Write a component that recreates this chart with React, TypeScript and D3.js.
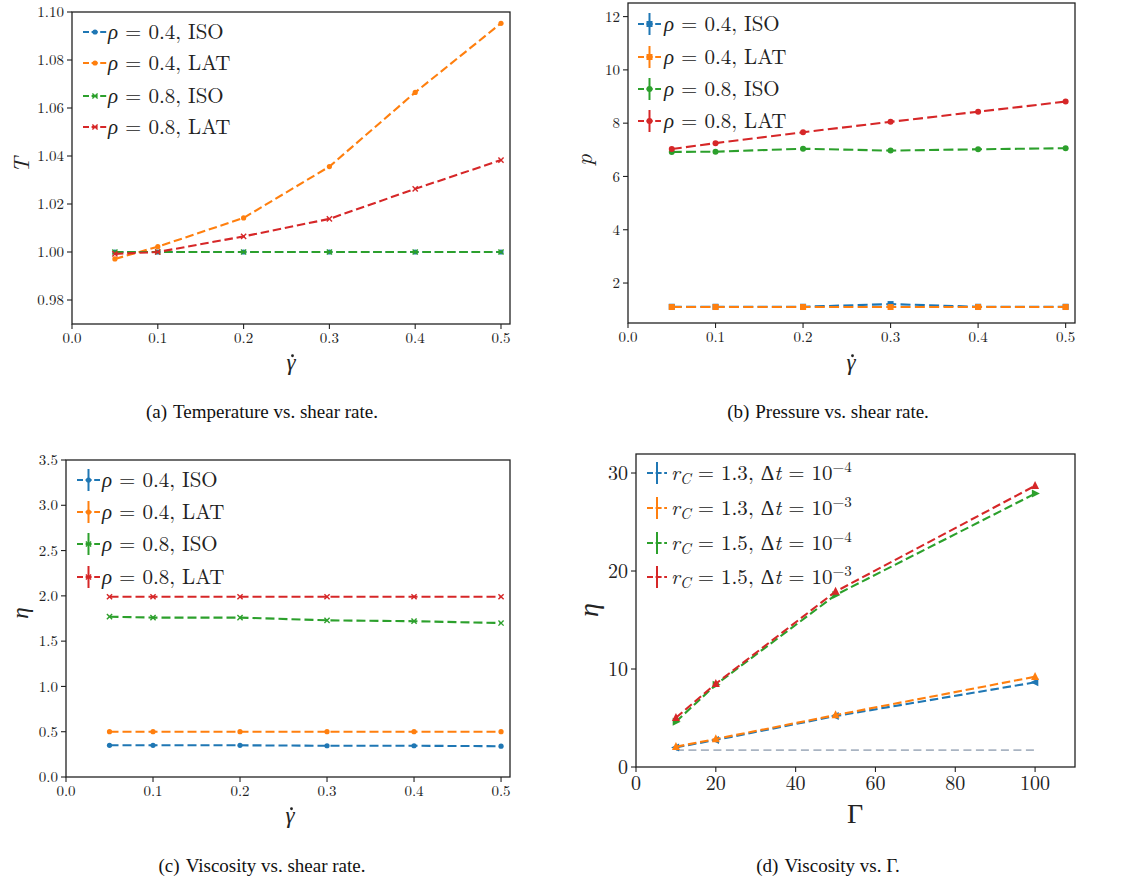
import React from 'react';
import * as d3 from 'd3';

// ---------- data ----------
const GAMMA_DOT = [0.05, 0.1, 0.2, 0.3, 0.4, 0.5];

const T_RHO04_ISO = [1.0, 1.0, 1.0, 1.0, 1.0, 1.0];
const T_RHO04_LAT = [0.9971, 1.0022, 1.0142, 1.0356, 1.0665, 1.0953];
const T_RHO08_ISO = [1.0, 1.0, 1.0, 1.0, 1.0, 1.0];
const T_RHO08_LAT = [0.9992, 1.0, 1.0065, 1.0138, 1.0263, 1.0383];

const P_RHO04_ISO = [1.11, 1.11, 1.11, 1.21, 1.11, 1.11];
const P_RHO04_LAT = [1.1, 1.1, 1.1, 1.1, 1.1, 1.1];
const P_RHO08_ISO = [6.92, 6.93, 7.04, 6.97, 7.02, 7.06];
const P_RHO08_LAT = [7.03, 7.25, 7.66, 8.05, 8.43, 8.81];

const ETA_RHO04_ISO = [0.35, 0.35, 0.35, 0.345, 0.345, 0.34];
const ETA_RHO04_LAT = [0.5, 0.5, 0.5, 0.5, 0.5, 0.5];
const ETA_RHO08_ISO = [1.77, 1.76, 1.76, 1.73, 1.72, 1.7];
const ETA_RHO08_LAT = [1.99, 1.99, 1.99, 1.99, 1.99, 1.99];

const GAMMA_BIG = [10, 20, 50, 100];
const ETA_RC13_DT4 = [2.0, 2.76, 5.2, 8.64];
const ETA_RC13_DT3 = [2.07, 2.86, 5.3, 9.21];
const ETA_RC15_DT4 = [4.62, 8.4, 17.55, 27.9];
const ETA_RC15_DT3 = [5.03, 8.5, 17.9, 28.7];
const GAMMA_REF = [10, 100];
const ETA_REF = [1.73, 1.73];

const SHEAR_TICKS = [0.0, 0.1, 0.2, 0.3, 0.4, 0.5];
const T_TICKS = [0.98, 1.0, 1.02, 1.04, 1.06, 1.08, 1.1];
const P_TICKS = [2, 4, 6, 8, 10, 12];
const ETA_TICKS = [0.0, 0.5, 1.0, 1.5, 2.0, 2.5, 3.0, 3.5];
const BIG_X_TICKS = [0, 20, 40, 60, 80, 100];
const BIG_Y_TICKS = [0, 10, 20, 30];

const RHO_LABELS = [
  ['0.4', 'ISO'],
  ['0.4', 'LAT'],
  ['0.8', 'ISO'],
  ['0.8', 'LAT'],
];
const RC_LABELS = [
  ['1.3', '−4'],
  ['1.3', '−3'],
  ['1.5', '−4'],
  ['1.5', '−3'],
];

const COLORS = ['#1f77b4', '#ff7f0e', '#2ca02c', '#d62728'];
const REF_COLOR = '#a9b4c2';

const MATH = '"Latin Modern Roman", "Liberation Serif", serif';
const GREEK = '"Liberation Serif", serif';
const TEXT = '"Liberation Serif", "Times New Roman", serif';

type Shape = 'o' | 's' | 'x' | '<' | '>' | '^';

function Marker({ shape, x, y, s, color }: { shape: Shape; x: number; y: number; s: number; color: string }) {
  if (shape === 'o') return <circle cx={x} cy={y} r={s} fill={color} />;
  if (shape === 's') return <rect x={x - s} y={y - s} width={2 * s} height={2 * s} fill={color} />;
  if (shape === 'x')
    return (
      <g stroke={color} strokeWidth={1.4}>
        <line x1={x - s} y1={y - s} x2={x + s} y2={y + s} />
        <line x1={x - s} y1={y + s} x2={x + s} y2={y - s} />
      </g>
    );
  let pts: number[][] = [];
  if (shape === '^') pts = [[x, y - s * 1.2], [x - s, y + s * 0.8], [x + s, y + s * 0.8]];
  if (shape === '<') pts = [[x - s * 1.2, y], [x + s * 0.8, y - s], [x + s * 0.8, y + s]];
  if (shape === '>') pts = [[x + s * 1.2, y], [x - s * 0.8, y - s], [x - s * 0.8, y + s]];
  return <polygon points={pts.map((p) => p.join(',')).join(' ')} fill={color} />;
}

type Series = { xs: number[]; ys: number[]; color: string; shape: Shape | null; dash?: string; width?: number };

type PanelProps = {
  box: { l: number; t: number; r: number; b: number };
  xDomain: [number, number];
  yDomain: [number, number];
  xTicks: number[];
  yTicks: number[];
  xFmt: (v: number) => string;
  yFmt: (v: number) => string;
  tickFont: number;
  series: Series[];
  markerSize: number;
  legend: {
    x1: number; x2: number; textX: number; rows: number[]; errbar: boolean; font: number;
    labels: React.ReactNode[]; shapes: (Shape | null)[];
  };
  xLabel: { kind: 'gammadot' | 'Gamma'; x: number; y: number; size: number };
  yLabel: { text: string; greek: boolean; x: number; y: number; size: number };
  caption: { tag: string; text: string; x: number; y: number };
};

function Panel(p: PanelProps) {
  const { box } = p;
  const x = d3.scaleLinear().domain(p.xDomain).range([box.l, box.r]);
  const y = d3.scaleLinear().domain(p.yDomain).range([box.b, box.t]);
  const line = d3.line<[number, number]>().x((d) => x(d[0])).y((d) => y(d[1]));
  const clipId = `clip-${box.l}-${box.t}`;
  const xl = p.xLabel;
  return (
    <g>
      <defs>
        <clipPath id={clipId}>
          <rect x={box.l} y={box.t} width={box.r - box.l} height={box.b - box.t} />
        </clipPath>
      </defs>
      <g clipPath={`url(#${clipId})`}>
        {p.series.map((s, i) => {
          const pts = s.xs.map((xv, j) => [xv, s.ys[j]] as [number, number]);
          return (
            <g key={i}>
              <path d={line(pts) || ''} fill="none" stroke={s.color} strokeWidth={s.width ?? 2.1} strokeDasharray={s.dash ?? '8.5 3.8'} />
              {s.shape && pts.map((d, j) => <Marker key={j} shape={s.shape as Shape} x={x(d[0])} y={y(d[1])} s={p.markerSize} color={s.color} />)}
            </g>
          );
        })}
      </g>
      <rect x={box.l} y={box.t} width={box.r - box.l} height={box.b - box.t} fill="none" stroke="#222" strokeWidth={1.3} />
      {p.xTicks.map((v) => (
        <g key={'x' + v}>
          <line x1={x(v)} x2={x(v)} y1={box.b} y2={box.b + 5} stroke="#222" strokeWidth={1.1} />
          <text x={x(v)} y={box.b + 9 + p.tickFont * 0.68} textAnchor="middle" fontFamily={MATH} fontSize={p.tickFont} fill="#222">
            {p.xFmt(v)}
          </text>
        </g>
      ))}
      {p.yTicks.map((v) => (
        <g key={'y' + v}>
          <line x1={box.l - 5} x2={box.l} y1={y(v)} y2={y(v)} stroke="#222" strokeWidth={1.1} />
          <text x={box.l - 8} y={y(v) + p.tickFont * 0.34} textAnchor="end" fontFamily={MATH} fontSize={p.tickFont} fill="#222">
            {p.yFmt(v)}
          </text>
        </g>
      ))}
      {p.legend.rows.map((ry, i) => {
        const lg = p.legend;
        const cx = (lg.x1 + lg.x2) / 2;
        const shape = lg.shapes[i];
        return (
          <g key={'lg' + i}>
            <line x1={lg.x1} x2={lg.x2} y1={ry} y2={ry} stroke={COLORS[i]} strokeWidth={2} strokeDasharray="6 2.6" />
            {lg.errbar && <line x1={cx} x2={cx} y1={ry - 11} y2={ry + 11} stroke={COLORS[i]} strokeWidth={2} />}
            {shape && <Marker shape={shape} x={cx} y={ry} s={p.markerSize} color={COLORS[i]} />}
            <text x={lg.textX} y={ry + lg.font * 0.33} fontFamily={MATH} fontSize={lg.font} fill="#222">
              {lg.labels[i]}
            </text>
          </g>
        );
      })}
      {xl.kind === 'gammadot' ? (
        <g>
          <text x={xl.x} y={xl.y} textAnchor="middle" fontFamily={GREEK} fontSize={xl.size} fontStyle="italic" fill="#222">
            γ
          </text>
          <circle cx={xl.x + 1.5} cy={xl.y - xl.size * 0.62} r={1.4} fill="#222" />
        </g>
      ) : (
        <text x={xl.x} y={xl.y} textAnchor="middle" fontFamily={GREEK} fontSize={xl.size} fill="#222">
          Γ
        </text>
      )}
      <text
        transform={`translate(${p.yLabel.x},${p.yLabel.y}) rotate(-90)`}
        textAnchor="middle"
        fontFamily={p.yLabel.greek ? GREEK : MATH}
        fontSize={p.yLabel.size}
        fontStyle="italic"
        fill="#222"
      >
        {p.yLabel.text}
      </text>
      <text x={p.caption.x} y={p.caption.y} textAnchor="middle" fontFamily={TEXT} fontSize={19} fill="#111">
        <tspan>{p.caption.tag}</tspan>
        <tspan dx={6}>{p.caption.text}</tspan>
      </text>
    </g>
  );
}

const rhoLabel = (l: string[]) => (
  <>
    <tspan fontStyle="italic" fontFamily={GREEK}>ρ</tspan>
    <tspan> = {l[0]}, {l[1]}</tspan>
  </>
);
const rcLabel = (l: string[], fs: number) => (
  <>
    <tspan fontStyle="italic">r</tspan>
    <tspan fontStyle="italic" fontSize={fs * 0.72} dy={fs * 0.2}>C</tspan>
    <tspan dy={-fs * 0.2}> = {l[0]}, </tspan>
    <tspan fontFamily={GREEK}>Δ</tspan>
    <tspan fontStyle="italic">t</tspan>
    <tspan> = 10</tspan>
    <tspan fontSize={fs * 0.72} dy={-fs * 0.4}>{l[1]}</tspan>
  </>
);

const fmt1 = d3.format('.1f');
const fmt2 = d3.format('.2f');
const fmt0 = d3.format('d');

export default function App() {
  const dash = '8.5 3.8';
  return (
    <svg width={1121} height={882} style={{ position: 'absolute', left: 0, top: 0, background: '#fff' }}>
      <rect x={0} y={0} width={1121} height={882} fill="#fff" />
      {/* (a) */}
      <Panel
        box={{ l: 72, t: 12, r: 510, b: 324 }}
        xDomain={[0, 0.5105]}
        yDomain={[0.97, 1.1]}
        xTicks={SHEAR_TICKS}
        yTicks={T_TICKS}
        xFmt={fmt1}
        yFmt={fmt2}
        tickFont={15}
        markerSize={2.6}
        series={[
          { xs: GAMMA_DOT, ys: T_RHO04_ISO, color: COLORS[0], shape: 'o', dash },
          { xs: GAMMA_DOT, ys: T_RHO04_LAT, color: COLORS[1], shape: 'o', dash },
          { xs: GAMMA_DOT, ys: T_RHO08_ISO, color: COLORS[2], shape: 'x', dash },
          { xs: GAMMA_DOT, ys: T_RHO08_LAT, color: COLORS[3], shape: 'x', dash },
        ]}
        legend={{ x1: 83, x2: 107, textX: 108, rows: [32, 63, 96, 127], errbar: false, font: 21, labels: RHO_LABELS.map(rhoLabel), shapes: ['o', 'o', 'x', 'x'] }}
        xLabel={{ kind: 'gammadot', x: 291, y: 370, size: 23 }}
        yLabel={{ text: 'T', greek: false, x: 29, y: 165, size: 22 }}
        caption={{ tag: '(a)', text: 'Temperature vs. shear rate.', x: 262, y: 418 }}
      />
      {/* (b) */}
      <Panel
        box={{ l: 628, t: 3, r: 1075, b: 323 }}
        xDomain={[0, 0.5107]}
        yDomain={[0.5, 12.51]}
        xTicks={SHEAR_TICKS}
        yTicks={P_TICKS}
        xFmt={fmt1}
        yFmt={fmt0}
        tickFont={15}
        markerSize={3}
        series={[
          { xs: GAMMA_DOT, ys: P_RHO04_ISO, color: COLORS[0], shape: 's', dash: '10 4.3' },
          { xs: GAMMA_DOT, ys: P_RHO04_LAT, color: COLORS[1], shape: 's', dash: '10 4.3' },
          { xs: GAMMA_DOT, ys: P_RHO08_ISO, color: COLORS[2], shape: 'o', dash: '10 4.3' },
          { xs: GAMMA_DOT, ys: P_RHO08_LAT, color: COLORS[3], shape: 'o', dash: '10 4.3' },
        ]}
        legend={{ x1: 638, x2: 661, textX: 664, rows: [24, 57, 89, 121], errbar: true, font: 21, labels: RHO_LABELS.map(rhoLabel), shapes: ['s', 's', 'o', 'o'] }}
        xLabel={{ kind: 'gammadot', x: 851, y: 370, size: 23 }}
        yLabel={{ text: 'p', greek: false, x: 592, y: 160, size: 23 }}
        caption={{ tag: '(b)', text: 'Pressure vs. shear rate.', x: 828, y: 418 }}
      />
      {/* (c) */}
      <Panel
        box={{ l: 66, t: 460, r: 510, b: 777 }}
        xDomain={[0, 0.5103]}
        yDomain={[0, 3.5]}
        xTicks={SHEAR_TICKS}
        yTicks={ETA_TICKS}
        xFmt={fmt1}
        yFmt={fmt1}
        tickFont={15}
        markerSize={2.6}
        series={[
          { xs: GAMMA_DOT, ys: ETA_RHO04_ISO, color: COLORS[0], shape: 'o', dash: '9 4' },
          { xs: GAMMA_DOT, ys: ETA_RHO04_LAT, color: COLORS[1], shape: 'o', dash: '9 4' },
          { xs: GAMMA_DOT, ys: ETA_RHO08_ISO, color: COLORS[2], shape: 'x', dash: '9 4' },
          { xs: GAMMA_DOT, ys: ETA_RHO08_LAT, color: COLORS[3], shape: 'x', dash: '9 4' },
        ]}
        legend={{ x1: 77, x2: 100, textX: 102, rows: [480, 512, 544, 577], errbar: true, font: 21, labels: RHO_LABELS.map(rhoLabel), shapes: ['o', 'o', 'x', 'x'] }}
        xLabel={{ kind: 'gammadot', x: 290, y: 823, size: 23 }}
        yLabel={{ text: 'η', greek: true, x: 28, y: 613, size: 23 }}
        caption={{ tag: '(c)', text: 'Viscosity vs. shear rate.', x: 262, y: 872 }}
      />
      {/* (d) */}
      <Panel
        box={{ l: 636, t: 454, r: 1075, b: 767 }}
        xDomain={[0, 110]}
        yDomain={[0, 31.94]}
        xTicks={BIG_X_TICKS}
        yTicks={BIG_Y_TICKS}
        xFmt={fmt0}
        yFmt={fmt0}
        tickFont={20}
        markerSize={4}
        series={[
          { xs: GAMMA_REF, ys: ETA_REF, color: REF_COLOR, shape: null, dash: '8 4.5', width: 1.8 },
          { xs: GAMMA_BIG, ys: ETA_RC13_DT4, color: COLORS[0], shape: '<', dash: '8.5 3.8' },
          { xs: GAMMA_BIG, ys: ETA_RC13_DT3, color: COLORS[1], shape: '^', dash: '8.5 3.8' },
          { xs: GAMMA_BIG, ys: ETA_RC15_DT4, color: COLORS[2], shape: '>', dash: '8.5 3.8' },
          { xs: GAMMA_BIG, ys: ETA_RC15_DT3, color: COLORS[3], shape: '^', dash: '8.5 3.8' },
        ]}
        legend={{ x1: 647, x2: 667, textX: 671, rows: [473, 508, 543, 577], errbar: true, font: 21, labels: RC_LABELS.map((l) => rcLabel(l, 21)), shapes: [null, null, null, null] }}
        xLabel={{ kind: 'Gamma', x: 855, y: 823, size: 28 }}
        yLabel={{ text: 'η', greek: true, x: 598, y: 610, size: 28 }}
        caption={{ tag: '(d)', text: 'Viscosity vs. Γ.', x: 828, y: 872 }}
      />
    </svg>
  );
}
